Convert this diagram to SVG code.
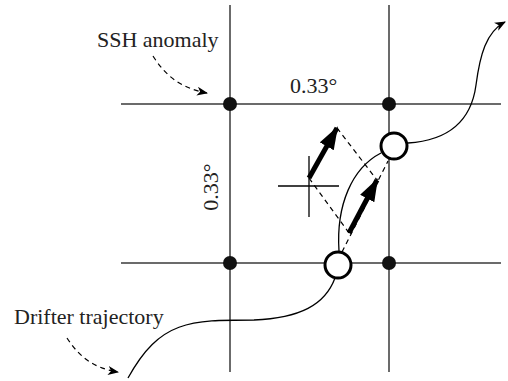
<svg xmlns="http://www.w3.org/2000/svg" width="508" height="381" viewBox="0 0 508 381">
<style>
.grid{stroke:#3a3a3a;stroke-width:1.5;fill:none}
.curve{stroke:#000;stroke-width:1.3;fill:none}
.dash{stroke:#000;stroke-width:1.2;fill:none;stroke-dasharray:5,4}
.thick{stroke:#000;stroke-width:5;fill:none}
.dot{fill:#111}
.open{fill:#fff;stroke:#000;stroke-width:3}
text{font-family:"Liberation Serif","Times New Roman",serif;font-size:22px;fill:#222}
</style>
<defs>
<marker id="big" markerUnits="userSpaceOnUse" markerWidth="26" markerHeight="18" refX="21" refY="8" orient="auto" viewBox="0 0 26 18">
<path d="M0,0 L23,8 L0,16 Z" fill="#000"/>
</marker>
<marker id="small" markerUnits="userSpaceOnUse" markerWidth="14" markerHeight="10" refX="10" refY="4.5" orient="auto" viewBox="0 0 14 10">
<path d="M0,0 L11,4.5 L0,9 L3,4.5 Z" fill="#000"/>
</marker>
</defs>
<g id="grid">
<line class="grid" x1="230" y1="5" x2="230" y2="372"/>
<line class="grid" x1="389" y1="5" x2="389" y2="372"/>
<line class="grid" x1="121" y1="104" x2="501" y2="104"/>
<line class="grid" x1="121" y1="263" x2="501" y2="263"/>
</g>
<g id="cross">
<line class="curve" x1="309" y1="156" x2="309" y2="217"/>
<line class="curve" x1="278" y1="186" x2="339" y2="186"/>
</g>
<g id="connectors">
<path class="curve" d="M128,378 C160,320 190,320 254,320 C300,318 325,305 335,278"/>
<path class="curve" d="M339,251 C336,205 352,168 381,153"/>
<path class="curve" d="M408,143 C455,140 472,115 476,85 S486,32 505,22" marker-end="url(#small)"/>
<path class="dash" d="M342,252 L388,161"/>
<path class="dash" d="M309,178 L349,233"/>
<path class="dash" d="M337,128 L377,180"/>
<path class="dash" d="M153,56 C165,75 180,88 207,93" marker-end="url(#small)"/>
<path class="dash" d="M67,338 C78,355 92,368 118,372" marker-end="url(#small)"/>
<line class="thick" x1="309" y1="178" x2="337" y2="128" marker-end="url(#big)"/>
<line class="thick" x1="349" y1="233" x2="377" y2="180" marker-end="url(#big)"/>
</g>
<g id="dots">
<circle class="dot" cx="230" cy="104" r="7"/>
<circle class="dot" cx="389" cy="104" r="7"/>
<circle class="dot" cx="230" cy="263" r="7"/>
<circle class="dot" cx="389" cy="263" r="7"/>
</g>
<g id="drifter-positions">
<circle class="open" cx="338" cy="265" r="13"/>
<circle class="open" cx="394" cy="146" r="13"/>
</g>
<g id="labels">
<text x="97" y="47">SSH anomaly</text>
<text x="290" y="93">0.33°</text>
<text x="14" y="324">Drifter trajectory</text>
<text transform="translate(218,187) rotate(-90)" text-anchor="middle">0.33°</text>
</g>
</svg>
